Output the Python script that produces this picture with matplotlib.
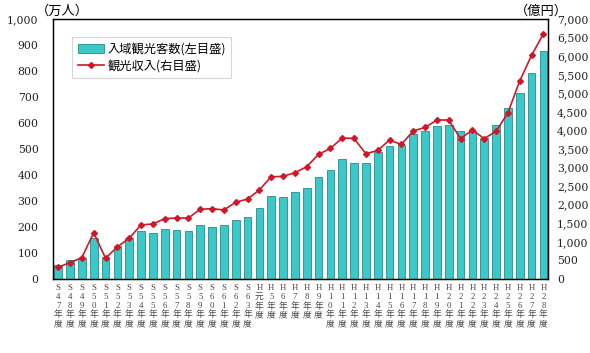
import matplotlib
matplotlib.use("Agg")
import matplotlib.pyplot as plt
from matplotlib.ticker import FuncFormatter, MultipleLocator

plt.rcParams['font.family'] = ['Liberation Serif', 'Noto Sans CJK JP']

# fiscal years (S = Showa, H = Heisei)
years = ['S47', 'S48', 'S49', 'S50', 'S51', 'S52', 'S53', 'S54', 'S55', 'S56',
         'S57', 'S58', 'S59', 'S60', 'S61', 'S62', 'S63', 'H元', 'H5', 'H6',
         'H7', 'H8', 'H9', 'H10', 'H11', 'H12', 'H13', 'H14', 'H15', 'H16',
         'H17', 'H18', 'H19', 'H20', 'H21', 'H22', 'H23', 'H24', 'H25', 'H26',
         'H27', 'H28']

# visitors (10,000 persons)
visitors = [55, 73, 80, 159, 83, 127, 159, 185, 178, 191,
            188, 185, 208, 200, 206, 227, 238, 273, 319, 315,
            336, 349, 391, 419, 462, 447, 445, 488, 512, 514,
            556, 569, 590, 592, 568, 568, 541, 592, 658, 716,
            793, 877]

# tourism revenue (100 million yen)
revenue = [315, 438, 573, 1246, 556, 861, 1094, 1453, 1480, 1623,
           1641, 1641, 1874, 1892, 1856, 2063, 2152, 2394, 2752, 2761,
           2860, 3021, 3354, 3515, 3793, 3784, 3371, 3461, 3739, 3622,
           3985, 4080, 4280, 4280, 3778, 4010, 3780, 3975, 4470, 5330,
           6020, 6600]


def stacked(label):
    # vertical label: one character per line, then 年度
    era, num = label[0], label[1:]
    return '\n'.join([era] + list(num) + ['年', '度'])


def comma(v, p):
    return f'{int(v):,}'


fig = plt.figure(figsize=(5.9, 3.53), dpi=100)
ax = fig.add_axes([0.089, 0.21, 0.84, 0.736])
x = list(range(len(years)))

bars = ax.bar(x, visitors, width=0.65, color='#3CC8C8', edgecolor='#238C8C',
              linewidth=0.6, label='入域観光客数(左目盛)', zorder=2)
ax.set_ylim(0, 1000)
ax.set_xlim(-0.48, len(years) - 0.6)
ax.yaxis.set_major_locator(MultipleLocator(100))
ax.yaxis.set_major_formatter(FuncFormatter(comma))
ax.set_xticks(x)
ax.set_xticklabels([stacked(y) for y in years], fontsize=6.3, linespacing=1.12,
                   color='#444444', va='top')
ax.tick_params(axis='x', length=0, pad=4)
ax.tick_params(axis='y', length=0, pad=10)
for t in ax.get_yticklabels():
    t.set_family(['DejaVu Serif'])
    t.set_fontsize(7.8)
    t.set_color('#222222')

ax2 = ax.twinx()
line, = ax2.plot(x, revenue, color='#D0172A', linewidth=1.2, marker='D',
                 markersize=3, label='観光収入(右目盛)', zorder=3)
ax2.set_ylim(0, 7000)
ax2.yaxis.set_major_locator(MultipleLocator(500))
ax2.yaxis.set_major_formatter(FuncFormatter(comma))
ax2.tick_params(axis='y', length=0, pad=6.5)
for t in ax2.get_yticklabels():
    t.set_family(['DejaVu Serif'])
    t.set_fontsize(7.8)
    t.set_color('#222222')

for a in (ax, ax2):
    for s in a.spines.values():
        s.set_linewidth(0.9)
        s.set_color('black')

fig.text(0.06, 0.968, '（万人）', fontsize=9.5, family=['Noto Sans CJK JP'],
         va='center', ha='left')
fig.text(0.962, 0.968, '（億円）', fontsize=9.5, family=['Noto Sans CJK JP'],
         va='center', ha='right')

leg = ax.legend(handles=[bars, line], loc='upper left',
                bbox_to_anchor=(0.04, 0.93), borderaxespad=0,
                prop={'family': ['Noto Sans CJK JP'], 'size': 8.8},
                frameon=True, fancybox=False, edgecolor='#CCCCCC',
                handlelength=2.1, handletextpad=0.3, borderpad=0.45,
                labelspacing=0.3)
leg.get_frame().set_linewidth(0.8)

fig.savefig('out.png', dpi=100)
